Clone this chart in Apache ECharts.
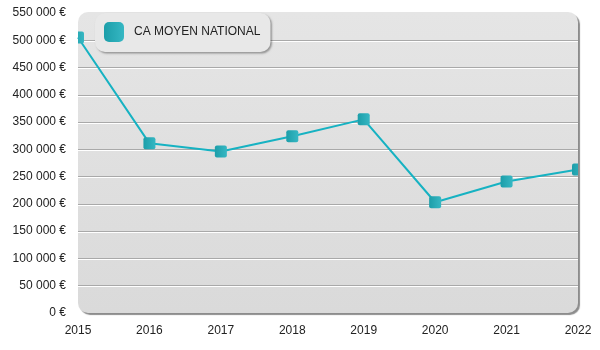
<!DOCTYPE html>
<html>
<head>
<meta charset="utf-8">
<script src="https://cdn.jsdelivr.net/npm/echarts@6/dist/echarts.min.js"></script>
<style>
  html, body { margin: 0; padding: 0; background: #ffffff; }
  #chart { width: 600px; height: 350px; }
</style>
</head>
<body>
<div id="chart"></div>
<script>
// Chiffre d'affaires moyen national par année
var years = ['2015', '2016', '2017', '2018', '2019', '2020', '2021', '2022'];
var caMoyen = [505000, 311000, 296000, 324000, 355000, 203000, 241000, 263000];
var seriesName = 'CA MOYEN NATIONAL';

var yMax = 550000;
var yStep = 50000;

var FONT = '"Liberation Sans", Arial, sans-serif';
var plot = { left: 78, right: 22, top: 13, bottom: 37 };

function markerFill() {
  return new echarts.graphic.LinearGradient(0, 0, 1, 0, [
    { offset: 0, color: '#1c9ea9' },
    { offset: 1, color: '#36b7c3' }
  ]);
}

function euro(v) {
  return String(v).replace(/\B(?=(\d{3})+(?!\d))/g, ' ') + ' €';
}

var chart = echarts.init(document.getElementById('chart'), null, { renderer: 'canvas' });

chart.setOption({
  animation: false,
  backgroundColor: '#ffffff',
  textStyle: { fontFamily: FONT },
  graphic: [{
    // rounded panel behind the plot area
    type: 'rect',
    z: -10,
    left: plot.left,
    top: plot.top - 1,
    shape: { width: 600 - plot.left - plot.right, height: 350 - plot.top - plot.bottom + 1, r: 10 },
    style: {
      fill: new echarts.graphic.LinearGradient(0, 0, 0, 1, [
        { offset: 0, color: '#e5e5e5' },
        { offset: 1, color: '#dadada' }
      ]),
      shadowColor: 'rgba(0,0,0,0.45)',
      shadowOffsetX: 2,
      shadowOffsetY: 2,
      shadowBlur: 1
    }
  }],
  legend: {
    left: 95,
    top: 13,
    padding: [9, 10, 10, 9],
    itemWidth: 20,
    itemHeight: 20,
    backgroundColor: '#e8e8e8',
    borderRadius: 10,
    shadowColor: 'rgba(0,0,0,0.35)',
    shadowOffsetX: 1.5,
    shadowOffsetY: 1.5,
    shadowBlur: 2,
    textStyle: { color: '#222222', fontSize: 12, fontFamily: FONT, padding: [0, 0, 0, 5] },
    data: [{ name: seriesName, icon: 'roundRect', itemStyle: { color: markerFill() } }]
  },
  grid: { left: plot.left, right: plot.right, top: plot.top, bottom: plot.bottom, containLabel: false },
  xAxis: {
    type: 'category',
    data: years,
    boundaryGap: false,
    axisLine: { show: false },
    axisTick: { show: false },
    axisLabel: { color: '#222222', fontSize: 12, fontFamily: FONT, margin: 12 }
  },
  yAxis: {
    type: 'value',
    min: 0,
    max: yMax,
    interval: yStep,
    axisLine: { show: false },
    axisTick: { show: false },
    axisLabel: { color: '#222222', fontSize: 12, fontFamily: FONT, margin: 12, formatter: euro },
    splitLine: {
      show: true,
      showMinLine: false,
      showMaxLine: false,
      lineStyle: {
        color: '#a9a9a9',
        width: 1,
        shadowColor: '#ffffff',
        shadowOffsetY: 1,
        shadowBlur: 0
      }
    }
  },
  series: [
    {
      name: seriesName,
      type: 'line',
      data: caMoyen,
      symbol: 'none',
      clip: true,
      lineStyle: { color: '#16b2c2', width: 2 },
      itemStyle: { color: '#16b2c2' },
      z: 2
    },
    {
      // square markers, clipped to the plot area
      name: seriesName,
      type: 'custom',
      clip: true,
      z: 3,
      data: caMoyen.map(function (v, i) { return [i, v]; }),
      renderItem: function (params, api) {
        var p = api.coord([api.value(0), api.value(1)]);
        var s = 12;
        return {
          type: 'rect',
          shape: { x: p[0] - s / 2, y: p[1] - s / 2, width: s, height: s, r: 2 },
          style: { fill: markerFill() }
        };
      }
    }
  ]
});
</script>
</body>
</html>
